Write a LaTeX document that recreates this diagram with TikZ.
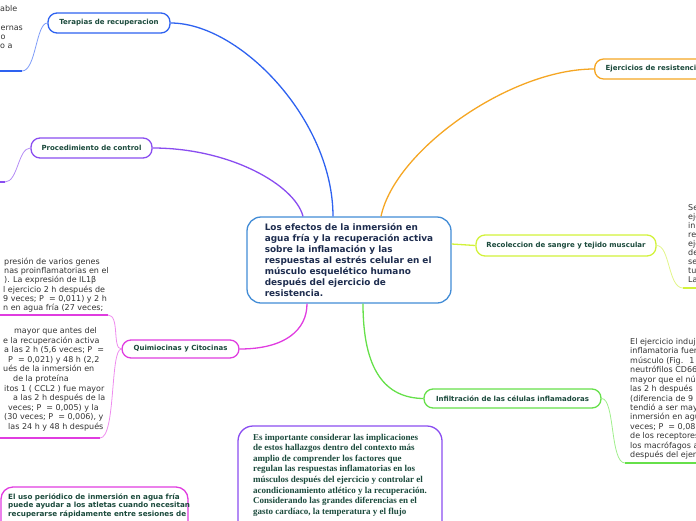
\documentclass[tikz,border=0pt]{standalone}
\usepackage{fontspec}
\setmainfont{DejaVu Sans}
\newfontfamily\serifbf{Liberation Serif}
\definecolor{tblue}{HTML}{2E62F0}
\definecolor{tbluel}{HTML}{7E9CF8}
\definecolor{ppurple}{HTML}{8A4DF0}
\definecolor{ppurplel}{HTML}{B48CF5}
\definecolor{qmag}{HTML}{E03CE0}
\definecolor{qmagl}{HTML}{EE8CEE}
\definecolor{eorange}{HTML}{F5A623}
\definecolor{ryellow}{HTML}{D2F23A}
\definecolor{ryellowl}{HTML}{E2F58A}
\definecolor{igreen}{HTML}{66E04A}
\definecolor{igreenl}{HTML}{A0EE8C}
\definecolor{cblue}{HTML}{428CD6}
\definecolor{nodetext}{HTML}{1B4A3C}
\definecolor{navytext}{HTML}{1E2D4F}
\definecolor{blocktext}{HTML}{333333}
\begin{document}
\begin{tikzpicture}[x=1pt,y=-1pt,
  lbl/.style={draw, line width=1.3pt, rounded corners=9pt, fill=white,
    font=\fontsize{7}{8}\selectfont\bfseries, text=nodetext, inner sep=0pt, minimum height=20pt},
  central/.style={draw=cblue, line width=1.3pt, rounded corners=14pt, fill=white,
    minimum width=204pt, minimum height=86pt, align=left, inner sep=0pt,
    font=\fontsize{8.9}{10.9}\selectfont\bfseries, text=navytext},
  blk/.style={anchor=base west, inner sep=0pt, font=\fontsize{8}{9}\selectfont, text=blocktext},
  bb/.style={anchor=base west, inner sep=0pt, font=\fontsize{7.2}{8}\selectfont\bfseries, text=nodetext},
  sb/.style={anchor=base west, inner sep=0pt, font=\serifbf\fontsize{9}{10}\selectfont\bfseries, text=nodetext},
  conn/.style={line width=1.3pt},
  thinl/.style={line width=0.8pt},
  ul/.style={line width=1.6pt}]
\useasboundingbox (0,0) rectangle (696,520);
\clip (0,0) rectangle (696,520);

% central node
\node[central] (c) at (349,260) {Los efectos de la inmersión en\\agua fría y la recuperación activa\\sobre la inflamación y las\\respuestas al estrés celular en el\\músculo esquelético humano\\después del ejercicio de\\resistencia.};

% topic nodes
\node[lbl, draw=tblue, minimum width=122pt] (t) at (109,23) {Terapias de recuperacion};
\node[lbl, draw=ppurple, minimum width=121pt] (p) at (91.5,148) {Procedimiento de control};
\node[lbl, draw=qmag, minimum width=117pt, minimum height=18pt] (q) at (180.5,349) {Quimiocinas y Citocinas};
\node[lbl, draw=eorange, anchor=west, inner xsep=11pt] (e) at (594,69) {Ejercicios de resistencia\hspace{12pt}};
\node[lbl, draw=ryellow, minimum width=180pt, minimum height=21pt] (r) at (566,245.5) {Recoleccion de sangre y tejido muscular};
\node[lbl, draw=igreen, minimum width=177pt, minimum height=19pt] (i) at (512.5,398.5) {Infiltración de las células inflamadoras};

% main connectors
\draw[conn, tblue] (t.east) .. controls (240,23) and (333,120) .. ([xshift=-16pt]c.north);
\draw[conn, ppurple] (p.east) .. controls (230,148) and (295,185) .. ([xshift=-46pt]c.north);
\draw[conn, eorange] (e.west) .. controls (510,69) and (395,150) .. ([xshift=32pt]c.north);
\draw[conn, qmag] (q.east) .. controls (285,349) and (307,330) .. ([xshift=-42pt]c.south);
\draw[conn, igreen] ([xshift=14pt]c.south) .. controls (363,370) and (385,398) .. (i.west);
\draw[conn, ryellow] ([yshift=16pt]c.east) -- (r.west);

% side links and underlines
\coordinate (tu) at (22,71);
\coordinate (tu0) at (0,71);
\draw[thinl, tbluel] (t.west) .. controls (36,23) and (36,71) .. (tu);
\draw[ul, tblue] (tu) -- (tu0);

\coordinate (pu) at (5,182);
\coordinate (pu0) at (0,182);
\draw[thinl, ppurplel] (p.west) .. controls (18,148) and (18,182) .. (pu);
\draw[ul, ppurple] (pu) -- (pu0);

\coordinate (qu) at (108,315);
\coordinate (qu0) at (0,315);
\draw[thinl, qmagl] (q.west) .. controls (112,349) and (120,315) .. (qu);
\draw[ul, qmag] (qu) -- (qu0);
\coordinate (ql) at (100,438);
\coordinate (ql0) at (0,438);
\draw[thinl, qmagl] (q.west) .. controls (110,349) and (116,438) .. (ql);
\draw[ul, qmag] (ql) -- (ql0);

\coordinate (ru) at (683,288);
\coordinate (ru0) at (696,288);
\draw[thinl, ryellowl] (r.east) .. controls (670,245.5) and (668,288) .. (ru);
\draw[ul, ryellow] (ru) -- (ru0);

\coordinate (iu) at (625,463);
\coordinate (iu0) at (696,463);
\draw[thinl, igreenl] (i.east) .. controls (615,398.5) and (610,463) .. (iu);
\draw[ul, igreen] (iu) -- (iu0);

% top-left block fragments
\node[blk] (ta1) at (0,11.8) {able};
\node[blk] (ta3) at (0.5,30) {ernas};
\node[blk] (ta4) at (0.5,39.1) {o};
\node[blk] (ta5) at (0,48.2) {o a};

% Quimiocinas upper block
\foreach \xx/\s [count=\k] in {4/{presión de varios genes},4/{nas proinflamatorias en el},4/{). La expresión de IL1β},3/{l ejercicio 2 h después de},3/{9 veces; P~ = 0,011) y 2 h},3/{n en agua fría (27 veces;}}
  \node[blk] (qa\k) at (\xx,{264.5+9.2*(\k-1)}) {\s};

% Quimiocinas lower block
\foreach \xx/\s [count=\k] in {14/{mayor que antes del},3/{e la recuperación activa},4/{a las 2 h (5,6 veces; P~ =},8/{P~ = 0,021) y 48 h (2,2},3/{ués de la inmersión en},13/{de la proteína},4/{itos 1 ( CCL2 ) fue mayor},13/{a las 2 h después de la},8/{veces; P~ = 0,005) y la},4/{(30 veces; P~ = 0,006), y},8/{las 24 h y 48 h después}}
  \node[blk] (qb\k) at (\xx,{333.5+9.6*(\k-1)}) {\s};

% Recoleccion block
\foreach \s [count=\k] in {Se,eje,inr,re,eje,de,se,tul,La}
  \node[blk] (rb\k) at (688,{210.5+9*(\k-1)}) {\s};

% Infiltracion block
\foreach \s [count=\k] in {{El ejercicio induj},{inflamatoria fuer},{músculo (Fig.~ 1},{neutrófilos CD66},{mayor que el nú},{las 2 h después},{(diferencia de 9},{tendió a ser may},{inmersión en agu},{veces; P~ = 0,08},{de los receptores},{los macrófagos a},{después del ejer}}
  \node[blk] (ib\k) at (630,{344.5+9.42*(\k-1)}) {\s};

% bottom center box
\node[draw=ppurple, line width=1.3pt, rounded corners=15pt, minimum width=204pt, minimum height=110pt, inner sep=0pt] (bc) at (340,481) {};
\foreach \s [count=\k] in {{Es importante considerar las implicaciones},{de estos hallazgos dentro del contexto más},{amplio de comprender los factores que},{regulan las respuestas inflamatorias en los},{músculos después del ejercicio y controlar el},{acondicionamiento atlético y la recuperación.},{Considerando las grandes diferencias en el},{gasto cardíaco, la temperatura y el flujo}}
  \node[sb] (bct\k) at (253,{440+10.65*(\k-1)}) {\s};

% bottom left box
\node[draw=qmag, line width=1.3pt, rounded corners=12pt, minimum width=187pt, minimum height=60pt, inner sep=0pt] (bl) at (94.5,517) {};
\foreach \s [count=\k] in {{El uso periódico de inmersión en agua fría},{puede ayudar a los atletas cuando necesitan},{recuperarse rápidamente entre sesiones de}}
  \node[bb] (blt\k) at (8,{499+8.6*(\k-1)}) {\s};
\end{tikzpicture}
\end{document}
